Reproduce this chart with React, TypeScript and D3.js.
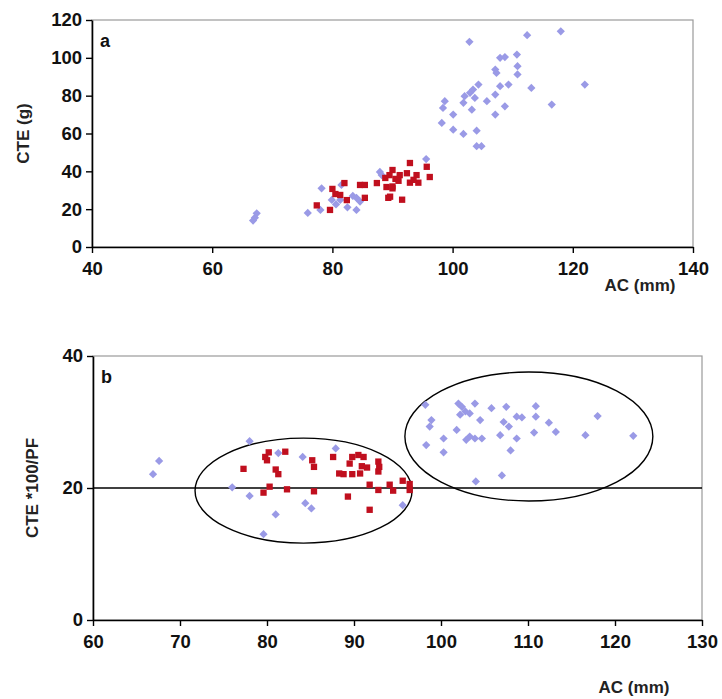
import React, { useEffect, useRef } from 'react'
import * as d3 from 'd3'

// panel a: AC (mm) vs CTE (g)
const aBlue: [number, number][] = [
  [66.8, 14], [67.1, 15.5], [67.4, 17.8], [75.9, 18], [78, 19.6], [78.2, 31],
  [79.9, 24.9], [80.6, 22.5], [81.3, 24.9], [81.5, 32.8], [82.5, 21], [83.4, 27],
  [84, 19.6], [84, 26], [84.6, 24], [87.9, 39.7], [88.2, 38], [95.6, 46.5],
  [98.2, 65.6], [98.4, 73.5], [98.7, 77.1], [100.1, 70], [100.1, 62], [101.8, 59.8],
  [101.8, 76.2], [102, 79.7], [102.8, 108.5], [102.9, 81.5], [103.2, 72.6], [103.4, 83.2],
  [103.7, 78.8], [104, 61.5], [104, 53.3], [104.3, 85.9], [104.8, 53.3], [105.7, 77.1],
  [107.1, 93.8], [107.3, 92], [107.1, 80.6], [107.1, 70], [107.9, 100], [107.9, 85],
  [108.7, 100.4], [108.7, 74.4], [109.3, 85.9], [110.7, 101.7], [110.8, 95.6], [110.8, 91.2],
  [112.4, 112], [113.1, 84.1], [116.5, 75.3], [118, 114], [122, 85.9],
]
const aRed: [number, number][] = [
  [77.4, 22], [79.6, 19.6], [80, 30.7], [80.5, 28], [81.3, 27.5], [82, 33.8],
  [82.4, 24.8], [84.6, 32.8], [85.4, 32.8], [85.4, 26], [87.4, 33.8], [88.8, 36.5],
  [89, 31.7], [90, 31], [89.3, 26], [90, 40.7], [91.2, 38], [92.9, 44.4],
  [92.4, 39], [94, 38], [95.7, 42.4], [96.2, 37], [94.3, 34], [92.9, 34],
  [91.6, 25], [89.6, 26.6], [90, 32], [90.5, 36], [91, 35], [89.5, 38], [93.5, 35.5],
]

// panel b: AC (mm) vs CTE*100/PF
const bBlue: [number, number][] = [
  [66.9, 22.1], [67.6, 24.1], [76, 20.1], [78, 27.1], [78, 18.8], [79.6, 13],
  [81, 16], [81.3, 25.3], [84.1, 24.7], [84.4, 17.7], [85.1, 16.9], [87.9, 26],
  [95.6, 17.4], [98.2, 32.6], [98.3, 26.5], [98.7, 29.3], [98.9, 30.3], [100.3, 27.5],
  [100.3, 25.4], [101.8, 28.8], [102, 32.8], [102.2, 31.1], [102.4, 32.3], [102.8, 31.6],
  [102.9, 27.3], [103.3, 31.3], [103.3, 27.8], [103.9, 32.8], [103.9, 27.5], [104, 21],
  [104.5, 30.3], [104.7, 27.5], [105.8, 32.1], [106.8, 28], [107, 21.9], [107.2, 30],
  [107.5, 32.3], [107.8, 29.3], [108, 25.7], [108.7, 30.8], [108.7, 27.5], [109.3, 30.7],
  [110.7, 28.4], [110.9, 32.4], [110.9, 30.8], [112.4, 29.9], [113.2, 28.5], [116.6, 28],
  [118, 30.9], [122.1, 27.9],
]
const bRed: [number, number][] = [
  [77.3, 22.9], [79.8, 24.7], [80, 24.2], [80.2, 25.4], [81, 22.8], [81.3, 22.1],
  [82.1, 25.5], [79.6, 19.3], [80.3, 20.2], [82.3, 19.8], [85.2, 24.2], [85.4, 23.2],
  [85.4, 19.5], [87.6, 24.7], [88.3, 22.2], [88.8, 22.1], [89.3, 18.7], [89.5, 23.7],
  [89.8, 24.7], [90.5, 25], [91.1, 24.7], [89.8, 22.1], [90.7, 22.2], [90.9, 23.3],
  [91.5, 23.1], [92.8, 24], [92.9, 23.2], [92.8, 22.5], [91.8, 20.5], [92.8, 19.7],
  [91.8, 16.7], [94.1, 20.5], [94.5, 19.6], [95.6, 21.1], [96.4, 20.6], [96.4, 19.7],
]

// ellipses drawn on panel b (data units)
const bEllipses = [
  { cx: 84.2, cy: 19.6, rx: 12.47, ry: 7.95 },
  { cx: 110.1, cy: 27.8, rx: 14.25, ry: 9.77 },
]

const aXTicks = [40, 60, 80, 100, 120, 140]
const aYTicks = [0, 20, 40, 60, 80, 100, 120]
const bXTicks = [60, 70, 80, 90, 100, 110, 120, 130]
const bYTicks = [0, 20, 40]
const bRefLine = 20

const BLUE = '#9a9ae6'
const RED = '#c00f1e'
const FONT = '"Liberation Sans", Arial, sans-serif'

type Panel = {
  label: string
  xDomain: [number, number]
  yDomain: [number, number]
  xRange: [number, number]
  yRange: [number, number]
  xTicks: number[]
  yTicks: number[]
  blue: [number, number][]
  red: [number, number][]
  yTitle: string
  yTitleX: number
  xTitleX: number
  xTitleY: number
}

function drawPanel(svg: d3.Selection<SVGSVGElement, unknown, null, undefined>, p: Panel, extra?: (g: any, x: any, y: any) => void) {
  const x = d3.scaleLinear().domain(p.xDomain).range(p.xRange)
  const y = d3.scaleLinear().domain(p.yDomain).range(p.yRange)
  const g = svg.append('g')

  // grey frame on top / right
  g.append('rect')
    .attr('x', p.xRange[0]).attr('y', p.yRange[1])
    .attr('width', p.xRange[1] - p.xRange[0])
    .attr('height', p.yRange[0] - p.yRange[1])
    .attr('fill', 'none').attr('stroke', '#9a9a9a').attr('stroke-width', 1.2)

  if (extra) extra(g, x, y)

  g.selectAll('.dia').data(p.blue).enter().append('path')
    .attr('d', d3.symbol().type(d3.symbolSquare).size(34)()!)
    .attr('transform', (d) => `translate(${x(d[0])},${y(d[1])}) rotate(45)`)
    .attr('fill', BLUE)

  g.selectAll('.sq').data(p.red).enter().append('path')
    .attr('d', d3.symbol().type(d3.symbolSquare).size(40)()!)
    .attr('transform', (d) => `translate(${x(d[0])},${y(d[1])})`)
    .attr('fill', RED)

  const xAxis = g.append('g')
    .attr('transform', `translate(0,${p.yRange[0]})`)
    .call(d3.axisBottom(x).tickValues(p.xTicks).tickSizeInner(6).tickSizeOuter(0).tickPadding(9))
  const yAxis = g.append('g')
    .attr('transform', `translate(${p.xRange[0]},0)`)
    .call(d3.axisLeft(y).tickValues(p.yTicks).tickSizeInner(6).tickSizeOuter(0).tickPadding(4))

  for (const ax of [xAxis, yAxis]) {
    ax.select('.domain').attr('stroke', '#000').attr('stroke-width', 1.6)
    ax.selectAll('.tick line').attr('stroke', '#000').attr('stroke-width', 1.4)
    ax.selectAll('.tick text')
      .attr('fill', '#111').style('font-family', FONT)
      .style('font-size', '18.5px').style('font-weight', 'bold')
  }

  g.append('text')
    .attr('x', p.xRange[0] + 8).attr('y', p.yRange[1] + 27)
    .style('font-family', FONT).style('font-size', '18px').style('font-weight', 'bold')
    .attr('fill', '#111').text(p.label)

  const midY = (p.yRange[0] + p.yRange[1]) / 2
  g.append('text')
    .attr('transform', `translate(${p.yTitleX},${midY}) rotate(-90)`)
    .attr('text-anchor', 'middle')
    .style('font-family', FONT).style('font-size', '17px').style('font-weight', 'bold')
    .attr('fill', '#222').text(p.yTitle)

  g.append('text')
    .attr('x', p.xTitleX).attr('y', p.xTitleY)
    .attr('text-anchor', 'middle')
    .style('font-family', FONT).style('font-size', '17px').style('font-weight', 'bold')
    .attr('fill', '#222').text('AC (mm)')
}

export default function App() {
  const ref = useRef<SVGSVGElement>(null)

  useEffect(() => {
    const svg = d3.select(ref.current!)
    svg.selectAll('*').remove()

    drawPanel(svg, {
      label: 'a',
      xDomain: [40, 140], yDomain: [0, 120],
      xRange: [92, 693], yRange: [247, 20],
      xTicks: aXTicks, yTicks: aYTicks,
      blue: aBlue, red: aRed,
      yTitle: 'CTE (g)', yTitleX: 29,
      xTitleX: 640, xTitleY: 291,
    })

    drawPanel(svg, {
      label: 'b',
      xDomain: [60, 130], yDomain: [0, 40],
      xRange: [93, 702], yRange: [620, 356],
      xTicks: bXTicks, yTicks: bYTicks,
      blue: bBlue, red: bRed,
      yTitle: 'CTE *100/PF', yTitleX: 38,
      xTitleX: 634, xTitleY: 693,
    }, (g, x, y) => {
      g.append('line')
        .attr('x1', x(60)).attr('x2', x(130))
        .attr('y1', y(bRefLine)).attr('y2', y(bRefLine))
        .attr('stroke', '#000').attr('stroke-width', 1.4)
      g.selectAll('.ell').data(bEllipses).enter().append('ellipse')
        .attr('cx', (d: any) => x(d.cx)).attr('cy', (d: any) => y(d.cy))
        .attr('rx', (d: any) => x(d.cx + d.rx) - x(d.cx))
        .attr('ry', (d: any) => y(d.cy - d.ry) - y(d.cy))
        .attr('fill', 'none').attr('stroke', '#000').attr('stroke-width', 1.4)
    })
  }, [])

  return (
    <svg ref={ref} width={722} height={699}
      style={{ position: 'absolute', left: 0, top: 0, background: '#fff' }} />
  )
}
